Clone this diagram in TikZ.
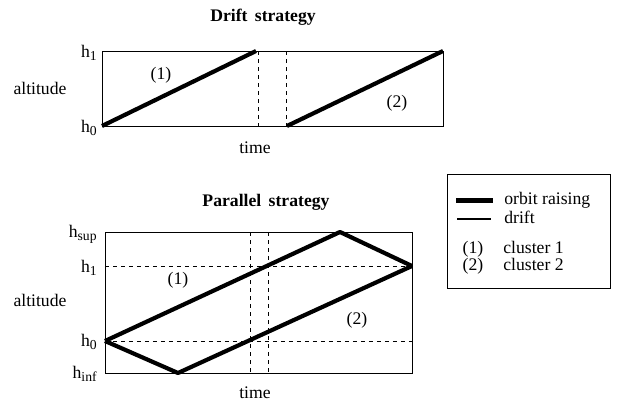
\documentclass[tikz,border=0pt]{standalone}
\usepackage{fontspec}
\setmainfont{Liberation Serif}
\usetikzlibrary{positioning}
\newcommand{\hlev}[1]{h\raisebox{-0.45ex}{\fontsize{8.2}{9}\selectfont #1}}
\begin{document}
\begin{tikzpicture}[x=0.6pt, y=-0.6pt,
  lbl/.style={font=\fontsize{10.6}{12}\selectfont, inner sep=0pt},
  ttl/.style={font=\fontsize{10.6}{12}\selectfont\bfseries, inner sep=0pt},
  frame/.style={draw, line width=0.6pt},
  raise/.style={line width=2.5pt, line join=round},
  guide/.style={line width=0.5pt, dash pattern=on 2.4pt off 2.4pt}]
\useasboundingbox (0,0) rectangle (619,403);
% drift strategy
\coordinate (dA) at (102,126);
\coordinate (dB) at (443,51);
\coordinate (dC) at (256,51);
\coordinate (dD) at (287,126);
\draw[frame] (dA) rectangle (dB);
\draw[guide] (258,51) -- (258,126);
\draw[guide] (286,51) -- (286,126);
\draw[raise] (dA) -- (dC);
\draw[raise] (dD) -- (dB);
\node[ttl] (dtitle) at (263,17) {Drift\, strategy};
\node[lbl, anchor=base east] (dh1) at (97,57) {\hlev{1}};
\node[lbl, anchor=base east] (dh0) at (97,132) {\hlev{0}};
\node[lbl] (dalt) at (40,88) {altitude};
\node[lbl] (dtime) at (255,148) {time};
\node[lbl] (dc1) at (161,75) {(1)};
\node[lbl] (dc2) at (397,103) {(2)};
% parallel strategy
\coordinate (pA) at (105,373);
\coordinate (pB) at (412,232);
\coordinate (p0) at (105,341);
\coordinate (pt) at (340,232);
\coordinate (pr) at (412,266);
\coordinate (pb) at (178,373);
\draw[frame] (pA) rectangle (pB);
\draw[guide] (105,266) -- (412,266);
\draw[guide] (105,341) -- (412,341);
\draw[guide] (250,232) -- (250,373);
\draw[guide] (268,232) -- (268,373);
\draw[raise] (p0) -- (pt) -- (pr);
\draw[raise] (p0) -- (pb) -- (pr);
\node[ttl] (ptitle) at (266,202) {Parallel\, strategy};
\node[lbl, anchor=base east] (phs) at (97,237) {\hlev{sup}};
\node[lbl, anchor=base east] (ph1) at (97,272) {\hlev{1}};
\node[lbl, anchor=base east] (ph0) at (97,346) {\hlev{0}};
\node[lbl, anchor=base east] (phi) at (97,378) {\hlev{inf}};
\node[lbl] (palt) at (40,300) {altitude};
\node[lbl] (ptime) at (255,393) {time};
\node[lbl] (pc1) at (178,280) {(1)};
\node[lbl] (pc2) at (357,320) {(2)};
% legend
\draw[frame] (447,174) rectangle (610,288);
\coordinate (l1a) at (456,200);
\coordinate (l1b) at (493,200);
\coordinate (l2a) at (457,219);
\coordinate (l2b) at (491,219);
\draw[line width=3pt] (l1a) -- (l1b);
\draw[line width=0.8pt] (l2a) -- (l2b);
\node[lbl, anchor=base west] (lraise) at (504,204) {orbit raising};
\node[lbl, anchor=base west] (ldrift) at (504,223) {drift};
\node[lbl, anchor=base] (lk1) at (473,253) {(1)};
\node[lbl, anchor=base] (lk2) at (473,270) {(2)};
\node[lbl, anchor=base west] (lcl1) at (503,253) {cluster 1};
\node[lbl, anchor=base west] (lcl2) at (503,270) {cluster 2};
\end{tikzpicture}
\end{document}
